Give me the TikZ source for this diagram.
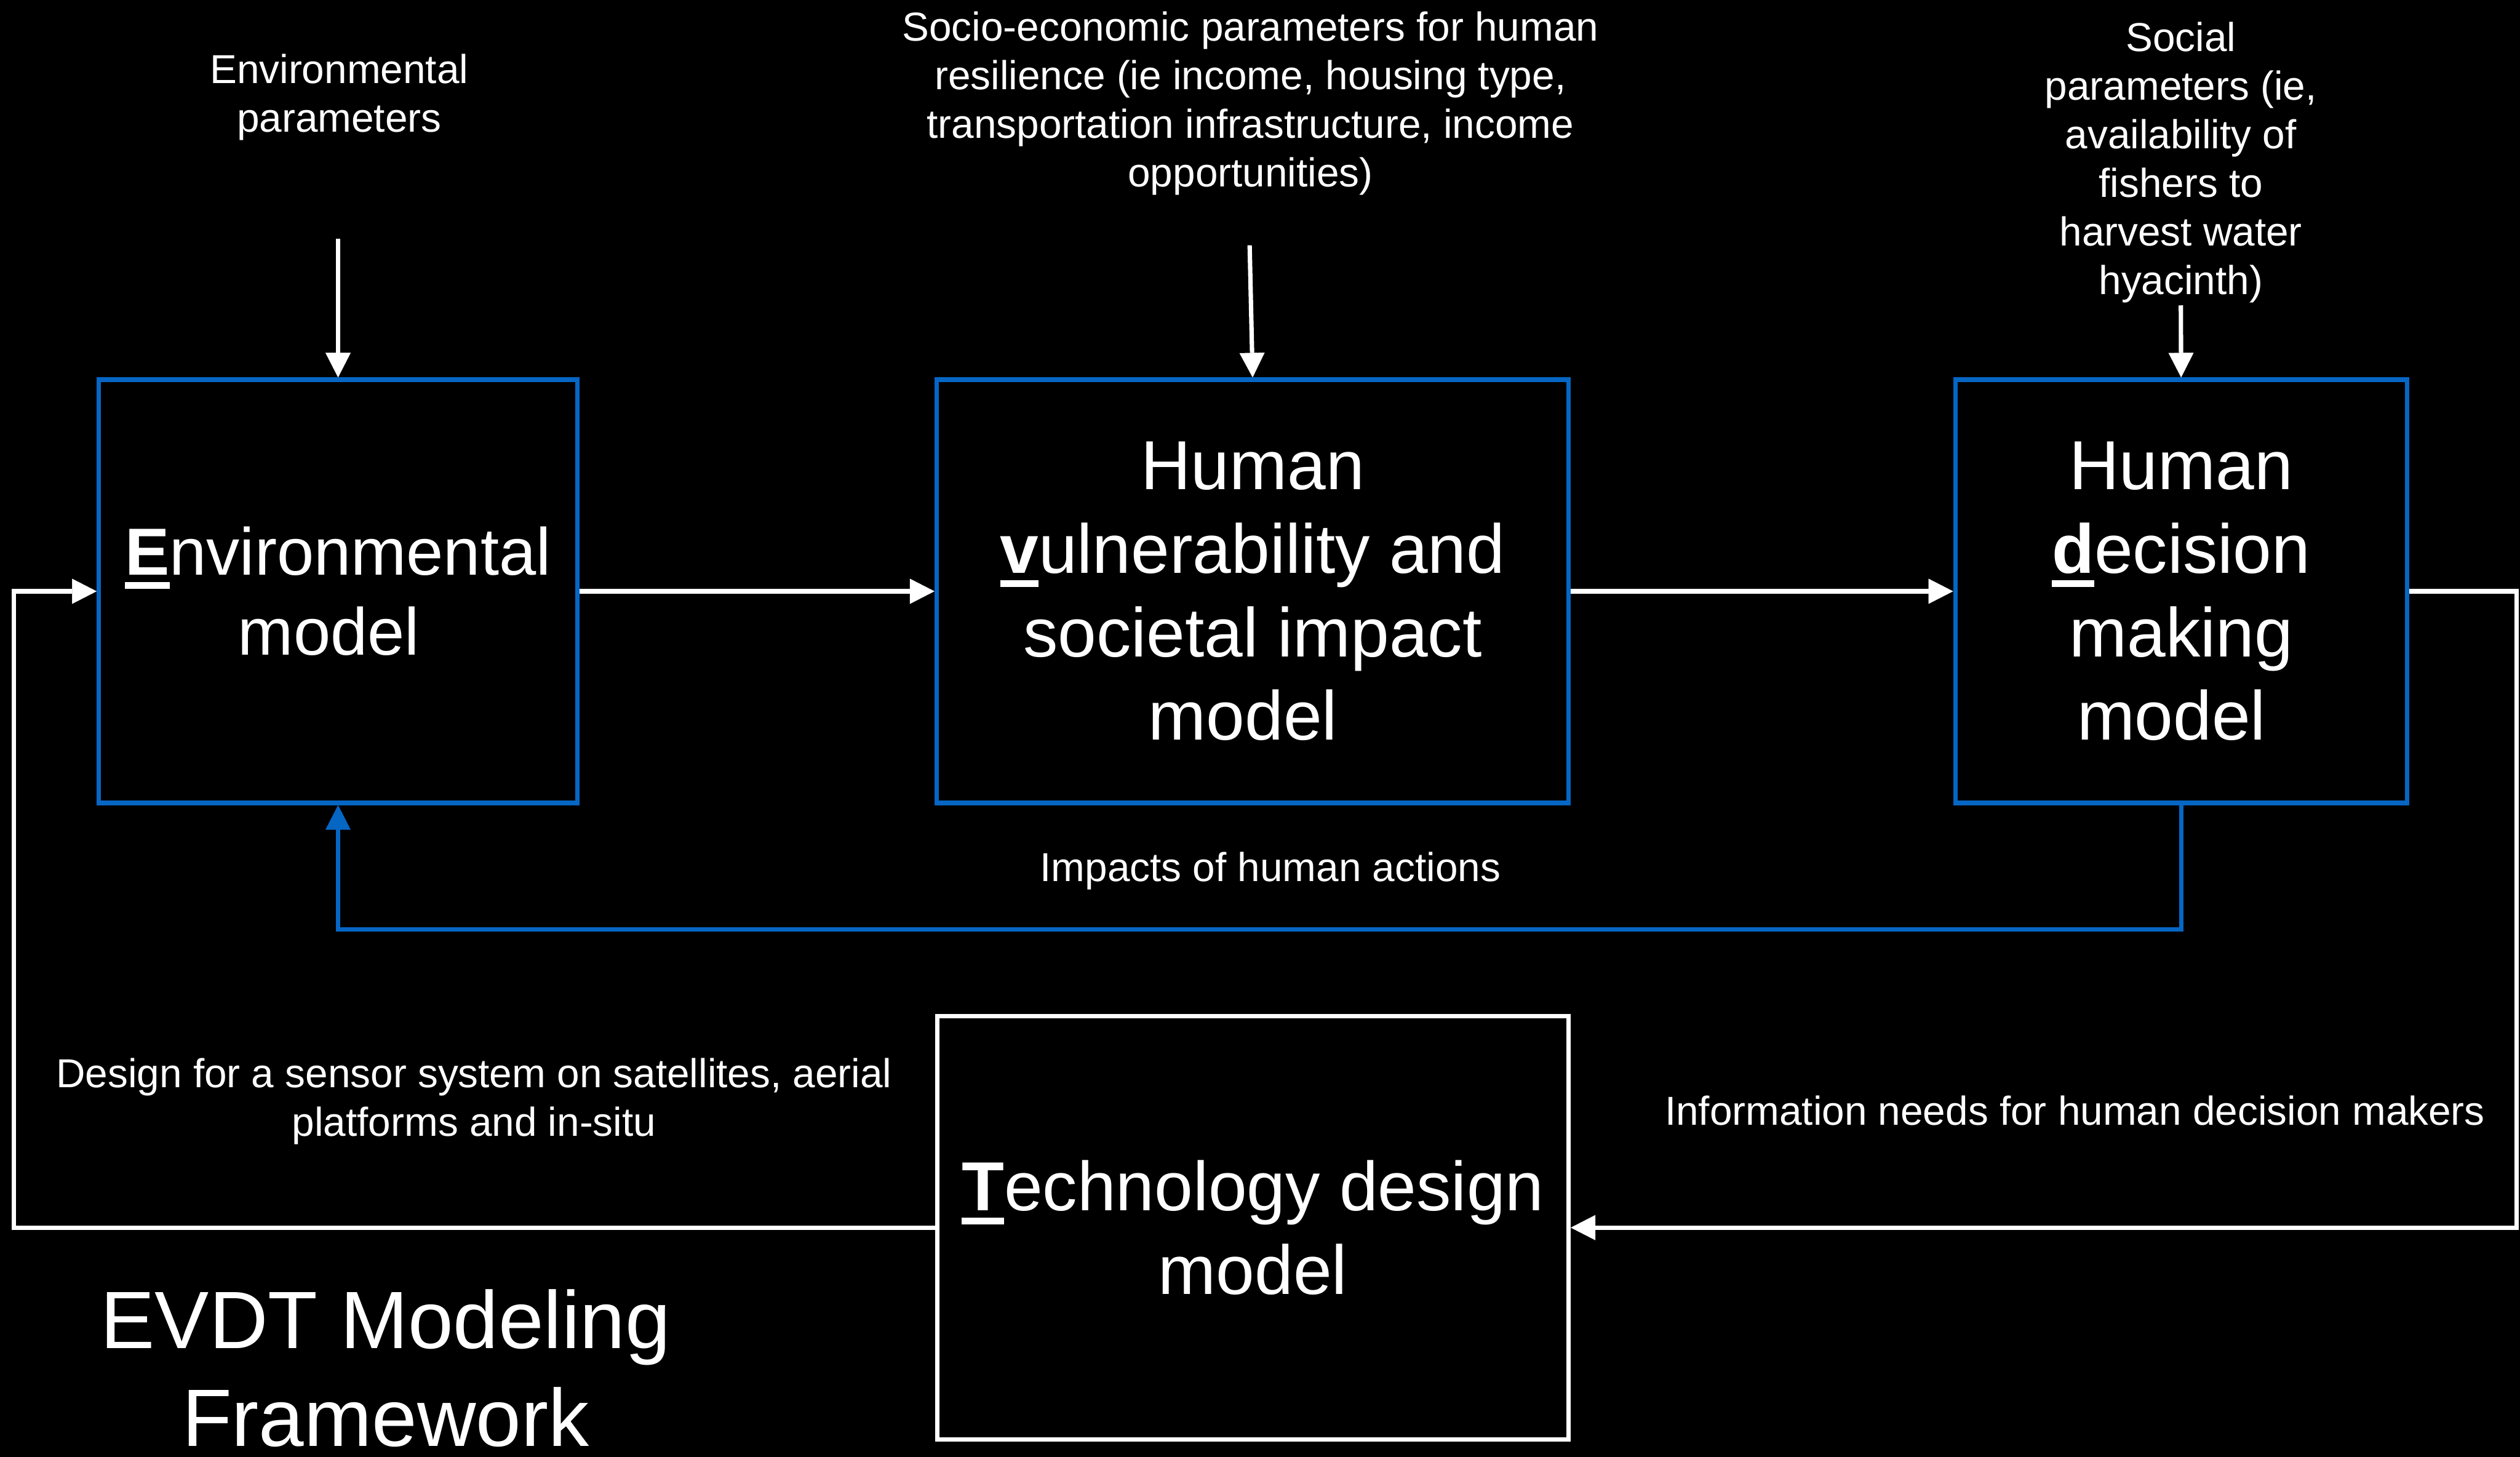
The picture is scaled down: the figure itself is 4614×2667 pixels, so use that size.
\documentclass[tikz,border=0pt]{standalone}
\usepackage{fontspec}
\setmainfont{Liberation Sans}
\usetikzlibrary{arrows.meta}
\definecolor{frameblue}{RGB}{6,102,196}
% bold, underlined initial letter of each model name
\newcommand\keyletter[1]{\setbox0=\hbox{\bfseries #1}\rlap{\rule[-0.2em]{\wd0}{0.1em}}\box0}
% invisible trailing space (keeps the last line slightly left of centre)
\newcommand\tsp{\hphantom{\ }}

\begin{document}
\begin{tikzpicture}[x=1pt,y=-1pt,
  model/.style={draw=frameblue, line width=8pt, inner sep=0pt, align=center,
    text=white, minimum height=775pt, font=\fontsize{127}{153}\selectfont},
  techbox/.style={model, draw=white},
  note/.style={text=white, align=center, inner sep=0pt,
    font=\fontsize{74}{89}\selectfont},
  flow/.style={draw=white, line width=8pt,
    -{Triangle[length=45pt,width=46pt,line width=0.5pt]}},
  feedback/.style={flow, draw=frameblue}]

% page and background
\useasboundingbox (0,0) rectangle (4614,2667);
\fill[black] (0,0) rectangle (4614,2667);

% the four models
\node[model, minimum width=876pt, font=\fontsize{122}{146}\selectfont]
  (env) at (619,1082.5) {\keyletter{E}nvironmental\\model\tsp};
\node[model, minimum width=1157pt]
  (vul) at (2293.5,1082.5) {Human\\\keyletter{v}ulnerability and\\societal impact\\model\tsp};
\node[model, minimum width=827pt]
  (dec) at (3993.5,1082.5) {Human\\\keyletter{d}ecision\\making\\model\tsp};
\node[techbox, minimum width=1156pt]
  (tech) at (2294,2247.5) {\keyletter{T}echnology design\\model};

% inputs and labels
\node[note] (envp) at (621,178) {Environmental\\parameters};
\node[note] (socio) at (2289.5,189) {Socio-economic parameters for human\\resilience (ie income, housing type,\\transportation infrastructure, income\\opportunities)};
\node[note] (social) at (3993,297) {Social\\parameters (ie,\\availability of\\fishers to\\harvest water\\hyacinth)};
\node[note] (impacts) at (2326,1594) {Impacts of human actions};
\node[note] (design) at (868,2016) {Design for a sensor system on satellites, aerial\\platforms and in-situ};
\node[note] (info) at (3799,2033) {Information needs for human decision makers};
\node[note, font=\fontsize{149}{179}\selectfont] (title) at (706,2505) {EVDT Modeling\\Framework};

% free ends of the connectors
\coordinate (envpin) at (619,437);
\coordinate (sociopin) at (2288,449);
\coordinate (socialin) at (3993,559);
\coordinate (fbk) at (0,1702);
\coordinate (lft) at (25,1600);
\coordinate (rgt) at (4608,1600);

% parameter inputs
\draw[flow] (envpin) -- (env.north);
\draw[flow] (sociopin) -- (vul.north);
\draw[flow] (socialin) -- (dec.north);

% main chain
\draw[flow] (env.east) -- (vul.west);
\draw[flow] (vul.east) -- (dec.west);

% impacts of human actions back to the environment
\draw[feedback] (dec.south) |- (env.south |- fbk) -- (env.south);

% information needs and sensor design loop
\draw[flow] (dec.east) -| (rgt) |- (tech.east);
\draw[flow] (tech.west) -| (lft) |- (env.west);
\end{tikzpicture}
\end{document}
